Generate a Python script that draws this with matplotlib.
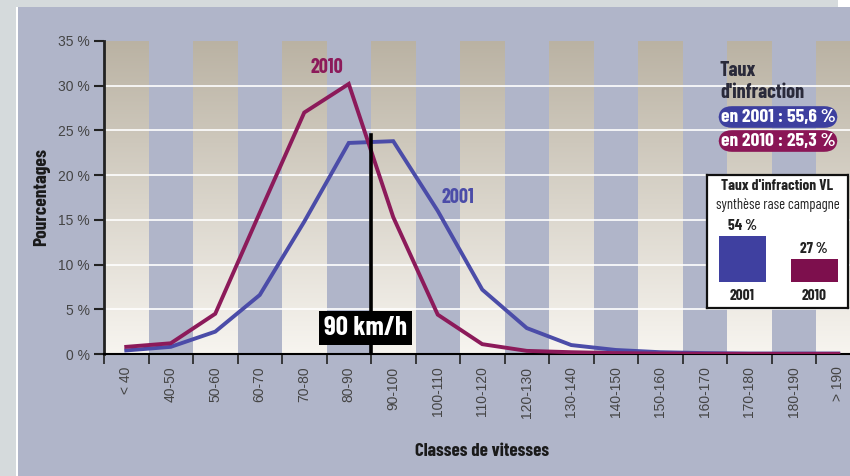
import numpy as np
import matplotlib.pyplot as plt
from matplotlib.patches import Rectangle

# speed classes and share of vehicles (%) per class
classes = ['< 40', '40-50', '50-60', '60-70', '70-80', '80-90', '90-100', '100-110',
           '110-120', '120-130', '130-140', '140-150', '150-160', '160-170',
           '170-180', '180-190', '> 190']
pct_2001 = [0.4, 0.8, 2.5, 6.6, 14.8, 23.6, 23.8, 16.0, 7.2, 2.9, 1.0, 0.45, 0.2, 0.1,
            0.05, 0.05, 0.05]
pct_2010 = [0.8, 1.2, 4.5, 15.8, 27.0, 30.2, 15.3, 4.4, 1.1, 0.35, 0.2, 0.1, 0.05, 0.03,
            0.02, 0.02, 0.02]
yticks = [0, 5, 10, 15, 20, 25, 30, 35]
limit_pos = 6  # boundary 80-90 / 90-100 -> 90 km/h

# infraction rates
rate_labels = ['en 2001 : 55,6 %', 'en 2010 : 25,3 %']
inset_years = ['2001', '2010']
inset_rates = [54, 27]

PANEL = '#b0b5c9'
BLUE = '#4b4ca8'
MAROON = '#8c1a5a'
TICKFONT = ['Liberation Sans', 'DejaVu Sans']
plt.rcParams['font.family'] = ['Barlow Condensed', 'DejaVu Sans']

fig = plt.figure(figsize=(8.5, 4.76), dpi=100)
fig.patch.set_facecolor(PANEL)

# light frame around the panel
fig.patches.append(Rectangle((0, 0), 16 / 850, 1, transform=fig.transFigure,
                             facecolor='#d5dadc', edgecolor='none', zorder=0))
fig.patches.append(Rectangle((16 / 850, 0), 1.5 / 850, 1, transform=fig.transFigure,
                             facecolor='white', edgecolor='none', zorder=0))
fig.patches.append(Rectangle((0, 1 - 7 / 476), 838 / 850, 7 / 476, transform=fig.transFigure,
                             facecolor='#d5dadc', edgecolor='none', zorder=0))
fig.patches.append(Rectangle((838 / 850, 1 - 7 / 476), 12 / 850, 7 / 476,
                             transform=fig.transFigure, facecolor='white',
                             edgecolor='none', zorder=0))

n = len(classes)
ax = fig.add_axes([104 / 850, 1 - 354 / 476, n * 44.5 / 850, 313 / 476])
ax.set_facecolor(PANEL)

# beige gradient stripes on every other class (dark at top, pale at bottom)
grad = np.linspace(0, 1, 256).reshape(-1, 1)
top = np.array([0.73, 0.70, 0.64])
bot = np.array([0.97, 0.96, 0.94])
img = top + (bot - top) * grad[..., None]
for i in range(0, n + 1, 2):
    ax.imshow(img, extent=(i, i + 1, 0, 35), aspect='auto', zorder=0)
ax.set_xlim(0, n)
ax.set_ylim(0, 35)

for y in yticks[1:-1]:
    ax.axhline(y, color='white', lw=1.2, zorder=1)

x = np.arange(n) + 0.5
ax.plot(x, pct_2001, color=BLUE, lw=2.8, zorder=3, solid_joinstyle='miter')
ax.plot(x, pct_2010, color=MAROON, lw=2.8, zorder=4, solid_joinstyle='miter')

ax.text(5.0, 32.0, '2010', color=MAROON, fontsize=14.5, fontweight='bold',
        ha='center', va='center')
ax.text(7.95, 17.5, '2001', color=BLUE, fontsize=14.5, fontweight='bold',
        ha='center', va='center')

# 90 km/h limit
ax.plot([limit_pos, limit_pos], [0, 24.5], color='black', lw=2.6, zorder=5)
ax.text(limit_pos - 0.12, 2.9, '90 km/h', color='white', fontsize=19.5, fontweight='bold',
        ha='center', va='center', zorder=6,
        bbox=dict(boxstyle='square,pad=0.18', facecolor='black', edgecolor='none'))

for s in ['top', 'right']:
    ax.spines[s].set_visible(False)
ax.spines['left'].set_linewidth(2)
ax.spines['left'].set_color('#222222')
ax.spines['bottom'].set_linewidth(1.5)
ax.spines['bottom'].set_bounds(0, 16.8)

ax.set_yticks(yticks)
ax.set_yticklabels([f'{v} %' for v in yticks], fontsize=10, color='#444444',
                   family=TICKFONT)
ax.tick_params(axis='y', length=7, width=1.5, color='#222222', pad=3)
ax.set_xticks(np.arange(0, n))
ax.set_xticklabels([])
ax.tick_params(axis='x', length=7, width=1.2, color='#222222')
ax.set_xticks(x, minor=True)
ax.set_xticklabels(classes, minor=True, rotation=90, fontsize=10, color='#444444',
                   family=TICKFONT)
ax.tick_params(axis='x', which='minor', length=0, pad=9)

ax.set_ylabel('Pourcentages', fontsize=14, fontweight='bold', color='#1a1a1a', labelpad=6)
fig.text(482 / 850, 1 - 452 / 476, 'Classes de vitesses', fontsize=13.5, fontweight='bold',
         color='#1a1a1a', ha='center', va='center')

# infraction rates box
fig.text(720 / 850, 1 - 71 / 476, 'Taux', fontsize=14.5, fontweight='bold', color='#2a2a3a',
         ha='left', va='center')
fig.text(720 / 850, 1 - 92 / 476, "d'infraction", fontsize=14.5, fontweight='bold',
         color='#2a2a3a', ha='left', va='center')
for lbl, col, yy in zip(rate_labels, ['#3d3f9f', '#8a1656'], [117, 141]):
    fig.text(778 / 850, 1 - yy / 476, lbl, fontsize=14, fontweight='bold', color='white',
             ha='center', va='center',
             bbox=dict(boxstyle='round,pad=0.12,rounding_size=0.7', facecolor=col,
                       edgecolor='none'))

ins = fig.add_axes([707 / 850, 1 - 308 / 476, 141 / 850, 133 / 476])
ins.set_facecolor('white')
ins.set_xlim(0, 141)
ins.set_ylim(-30.5, 125.6)
for s in ins.spines.values():
    s.set_linewidth(1.6)
    s.set_color('#111111')
ins.set_xticks([])
ins.set_yticks([])
bar_x = [35, 107]
ins.bar(bar_x, inset_rates, width=47, color=['#3f40a0', '#7d0f4d'])
for bx, v, yr in zip(bar_x, inset_rates, inset_years):
    ins.text(bx, v + 3, f'{v} %', fontsize=11, fontweight='bold', color='#222222',
             ha='center', va='bottom')
    ins.text(bx, -16, yr, fontsize=11, fontweight='bold', color='#222222',
             ha='center', va='center')
ins.text(70.5, 112.7, "Taux d'infraction VL", fontsize=11, fontweight='bold',
         color='#222222', ha='center', va='center')
ins.text(70.5, 90.3, 'synthèse rase campagne', fontsize=10.5, color='#222222',
         ha='center', va='center')

fig.savefig('out.png', dpi=100, facecolor=fig.get_facecolor())
